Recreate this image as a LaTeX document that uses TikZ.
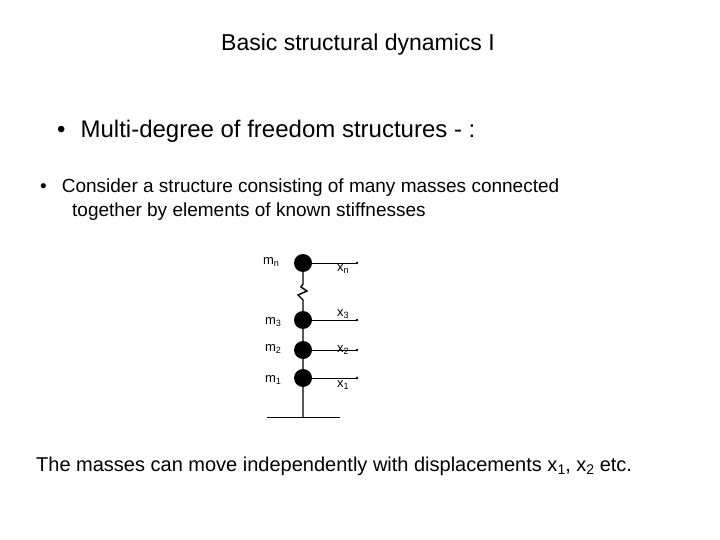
\documentclass[tikz,border=0pt]{standalone}
\usepackage{fontspec}
\setmainfont{Liberation Sans}
\newcommand{\sbs}[1]{\raisebox{-0.3ex}{\scalebox{0.7}{#1}}}
\begin{document}
\begin{tikzpicture}[x=1pt,y=-1pt,
  mass/.style={circle,fill=black,inner sep=0pt,minimum size=18pt},
  lbl/.style={font=\fontsize{13}{14}\selectfont,inner sep=0pt},
  txt/.style={inner sep=0pt,anchor=west}]
\useasboundingbox (0,0) rectangle (720,540);
\node[inner sep=0pt,font=\fontsize{23}{26}\selectfont] (title) at (358,45) {Basic structural dynamics I};
\node[txt,font=\fontsize{24}{28}\selectfont] (b1) at (57,131) {\textbullet\hspace{15pt}Multi-degree of freedom structures - :};
\node[txt,font=\fontsize{19}{24}\selectfont,align=left,anchor=north west] (b2) at (40,179) {\textbullet\hspace{15pt}Consider a structure consisting of many masses connected\\\hspace{32pt}together by elements of known stiffnesses};
\coordinate (g) at (303,417);
\coordinate (gl) at (267,417);
\coordinate (gr) at (340,417);
\coordinate (z1) at (303,284);
\coordinate (z2) at (303,303);
\node[mass] (mn) at (303,263) {};
\node[mass] (m3) at (303,320) {};
\node[mass] (m2) at (303,350) {};
\node[mass] (m1) at (303,378) {};
\draw[line width=1pt] (gl) -- (gr);
\draw[line width=1.4pt] (g) -- (m1) -- (m2) -- (m3) -- (z2) -- ++(0,-3) -- ++(-5,-5) -- ++(9,-4) -- ++(-6,-4) -- (z1) -- (mn);
\foreach \m/\y in {mn/263,m3/320,m2/350,m1/378}{
  \coordinate (e\m) at (357,\y);
  \draw[line width=0.9pt] (\m) -- (e\m);
  \fill (e\m) circle (1.3pt);
}
\node[lbl] (lmn) at (271,262) {m\sbs{n}};
\node[lbl] (lm3) at (273,322) {m\sbs{3}};
\node[lbl] (lm2) at (273,349) {m\sbs{2}};
\node[lbl] (lm1) at (273,380) {m\sbs{1}};
\node[lbl] (lxn) at (343,269) {x\sbs{n}};
\node[lbl] (lx3) at (343,314) {x\sbs{3}};
\node[lbl] (lx2) at (343,350) {x\sbs{2}};
\node[lbl] (lx1) at (343,385) {x\sbs{1}};
\node[txt,font=\fontsize{20}{24}\selectfont] (bottom) at (36,466) {The masses can move independently with displacements x\sbs{1}, x\sbs{2} etc.};
\end{tikzpicture}
\end{document}
